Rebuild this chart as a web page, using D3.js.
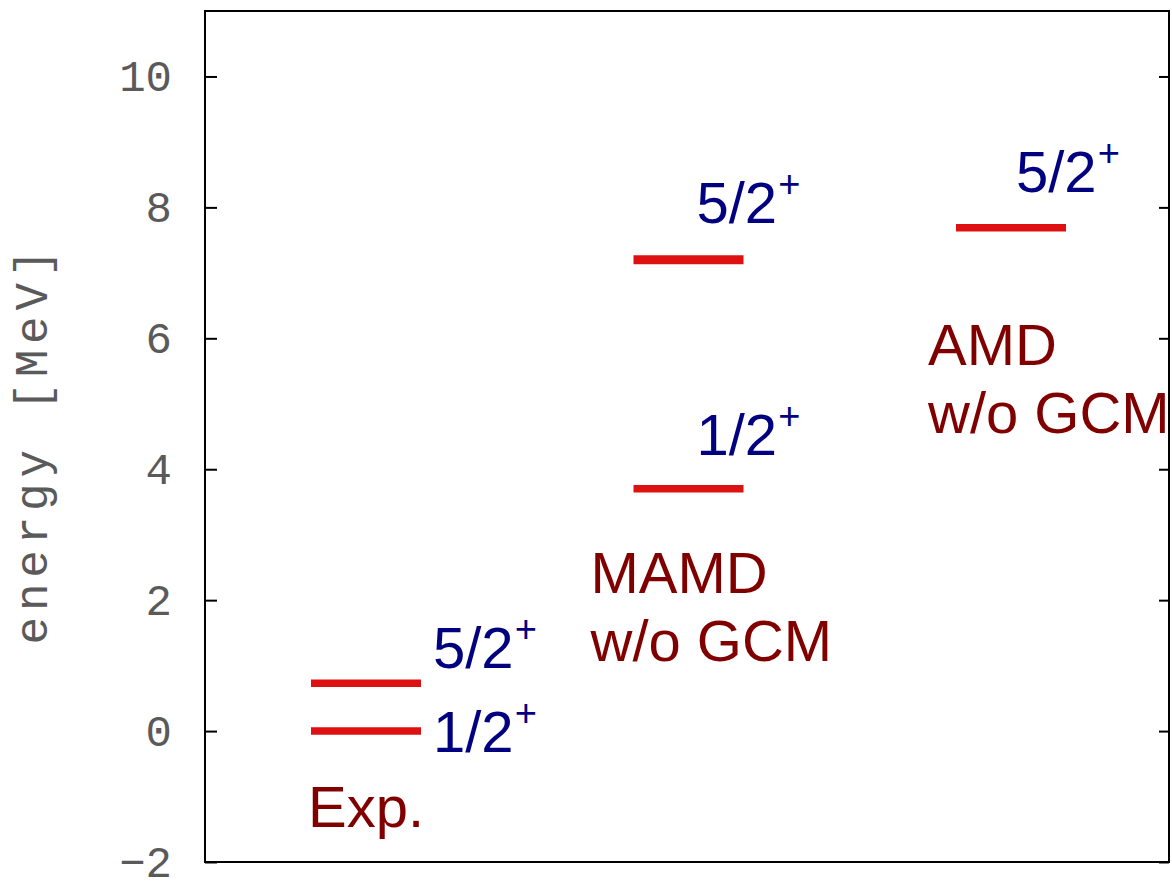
<!DOCTYPE html>
<html>
<head>
<meta charset="utf-8">
<script src="https://cdn.jsdelivr.net/npm/d3@7/dist/d3.min.js"></script>
<style>
  body { margin: 0; background: #fff; }
  svg { display: block; }
</style>
</head>
<body>
<div id="chart"></div>
<script>
// categories (columns) and their caption lines
const categories = ["Exp.", "MAMD", "AMD"];
const captions = [["Exp."], ["MAMD", "w/o GCM"], ["AMD", "w/o GCM"]];

// energy levels
const levelCategory = ["Exp.", "Exp.", "MAMD", "MAMD", "AMD"];
const levelEnergy = [0, 0.73, 3.70, 7.20, 7.69];
const levelSpin = ["1/2", "5/2", "1/2", "5/2", "5/2"];

const yTicks = [-2, 0, 2, 4, 6, 8, 10];
const yDomain = [-2, 11];

const w = 1172;
const h = 882;
const frame = {left: 205, right: 1169, top: 11, bottom: 862};

const svg = d3.select("#chart")
              .append("svg")
              .attr("width", w)
              .attr("height", h);

const yScale = d3.scaleLinear()
                 .domain(yDomain)
                 .range([frame.bottom, frame.top]);

const xScale = d3.scalePoint()
                 .domain(categories)
                 .range([366, 1011]);

const halfLine = 55;

// axes, ticks pointing inward on both sides
const yAxis = d3.axisLeft(yScale)
                .tickValues(yTicks)
                .tickSize(-12)
                .tickPadding(33);

const yAxisRight = d3.axisRight(yScale)
                     .tickValues(yTicks)
                     .tickSize(-10)
                     .tickFormat("");

const gy = svg.append("g")
    .attr("class", "y-axis")
    .attr("transform", `translate(${frame.left}, 0)`)
    .call(yAxis);

const gyr = svg.append("g")
    .attr("class", "y-axis-right")
    .attr("transform", `translate(${frame.right}, 0)`)
    .call(yAxisRight);

[gy, gyr].forEach(g => {
    g.select(".domain").remove();
    g.selectAll(".tick line").attr("stroke", "#000").attr("stroke-width", 2);
});

gy.selectAll(".tick text")
  .attr("font-family", "'Liberation Mono', monospace")
  .attr("font-size", 44)
  .attr("fill", "#5a5a5a");

svg.append("rect")
   .attr("x", frame.left)
   .attr("y", frame.top)
   .attr("width", frame.right - frame.left)
   .attr("height", frame.bottom - frame.top)
   .attr("fill", "none")
   .attr("stroke", "#000")
   .attr("stroke-width", 2);

svg.append("text")
   .attr("class", "y-label")
   .attr("text-anchor", "middle")
   .attr("font-family", "'Liberation Mono', monospace")
   .attr("font-size", 46)
   .attr("fill", "#5a5a5a")
   .attr("textLength", 395)
   .attr("lengthAdjust", "spacing")
   .attr("transform", "translate(47, 447) rotate(-90)")
   .text("energy [MeV]");

// level bars
const levels = levelEnergy.map((e, i) => ({cat: levelCategory[i], e: e, spin: levelSpin[i], i: i}));

svg.selectAll("line.level")
   .data(levels)
   .enter().append("line")
   .attr("class", "level")
   .attr("x1", d => xScale(d.cat) - halfLine)
   .attr("x2", d => xScale(d.cat) + halfLine)
   .attr("y1", d => yScale(d.e))
   .attr("y2", d => yScale(d.e))
   .attr("stroke", "#dd1111")
   .attr("stroke-width", d => d.i === 3 ? 9 : 7.5);

// spin labels: beside the bar for Exp., above it for the models
const spinOffset = [
    {dx: 67, dy: 21},
    {dx: 67, dy: -15},
    {dx: 8, dy: -34},
    {dx: 8, dy: -37},
    {dx: 5, dy: -36}
];

const spin = svg.selectAll("text.spin")
   .data(levels)
   .enter().append("text")
   .attr("class", "spin")
   .attr("x", d => xScale(d.cat) + spinOffset[d.i].dx)
   .attr("y", d => yScale(d.e) + spinOffset[d.i].dy)
   .attr("font-family", "'Liberation Sans', Arial, sans-serif")
   .attr("font-size", 58)
   .attr("fill", "#000080");

spin.append("tspan").text(d => d.spin);
spin.append("tspan")
    .attr("font-size", 38)
    .attr("dx", 1)
    .attr("dy", -26)
    .text("+");

// captions under/next to each column
const captionPos = [
    {dx: -58, y: 827},
    {dx: -98, y: 593},
    {dx: -83, y: 365}
];

captions.forEach((lines, k) => {
    const t = svg.append("text")
        .attr("class", "caption")
        .attr("font-family", "'Liberation Sans', Arial, sans-serif")
        .attr("font-size", 58)
        .attr("fill", "#800000");
    lines.forEach((s, j) => {
        t.append("tspan")
         .attr("x", xScale(categories[k]) + captionPos[k].dx)
         .attr("y", captionPos[k].y + j * 68)
         .text(s);
    });
});
</script>
</body>
</html>
